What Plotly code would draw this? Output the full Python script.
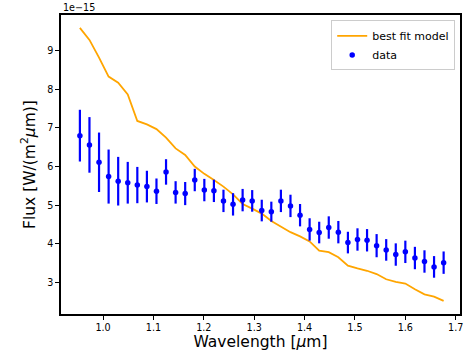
import plotly.graph_objects as go

# wavelength grid (micron)
wavelength = [0.954, 0.973, 0.992, 1.011, 1.030, 1.049, 1.068, 1.087, 1.106, 1.125,
              1.144, 1.163, 1.182, 1.201, 1.220, 1.239, 1.258, 1.277, 1.296, 1.315,
              1.334, 1.353, 1.372, 1.391, 1.410, 1.429, 1.448, 1.467, 1.486, 1.505,
              1.524, 1.543, 1.562, 1.581, 1.600, 1.619, 1.638, 1.657, 1.676]

# observed flux (units of 1e-15 W/(m^2 micron))
flux_data = [6.80, 6.56, 6.11, 5.74, 5.62, 5.58, 5.52, 5.48, 5.36, 5.86,
             5.33, 5.30, 5.65, 5.39, 5.37, 5.11, 5.02, 5.13, 5.11, 4.86,
             4.83, 5.11, 4.98, 4.74, 4.37, 4.29, 4.42, 4.30, 4.03, 4.11,
             4.09, 3.95, 3.84, 3.72, 3.79, 3.63, 3.54, 3.40, 3.51]

flux_err = [0.67, 0.72, 0.77, 0.70, 0.63, 0.54, 0.47, 0.41, 0.33, 0.33,
            0.29, 0.30, 0.29, 0.29, 0.29, 0.29, 0.29, 0.29, 0.28, 0.28,
            0.26, 0.29, 0.29, 0.29, 0.29, 0.28, 0.29, 0.29, 0.28, 0.29,
            0.29, 0.30, 0.28, 0.29, 0.29, 0.29, 0.29, 0.28, 0.29]

# best-fit model flux (units of 1e-15)
flux_model = [9.59, 9.28, 8.82, 8.33, 8.17, 7.87, 7.18, 7.09, 6.97, 6.75,
              6.47, 6.30, 6.00, 5.81, 5.65, 5.48, 5.28, 5.03, 4.91, 4.78,
              4.59, 4.44, 4.30, 4.19, 4.06, 3.82, 3.78, 3.65, 3.43, 3.36,
              3.30, 3.215, 3.08, 3.01, 2.97, 2.82, 2.69, 2.63, 2.52]

FONT = "DejaVu Sans"

fig = go.Figure()
fig.add_trace(go.Scatter(
    x=wavelength, y=flux_model, mode="lines", name="best fit model",
    line=dict(color="#ffa500", width=1.8),
))
fig.add_trace(go.Scatter(
    x=wavelength, y=flux_data, mode="markers", name="data",
    marker=dict(color="#0000ff", size=5.5),
    error_y=dict(type="data", array=flux_err, visible=True, color="#0000ff",
                 thickness=2.2, width=0),
))

fig.update_layout(
    width=465, height=361,
    margin=dict(l=61, r=3, t=15, b=47),
    paper_bgcolor="white", plot_bgcolor="white",
    font=dict(family=FONT, color="black", size=10),
    showlegend=True,
    legend=dict(x=0.988, y=0.982, xanchor="right", yanchor="top",
                bgcolor="rgba(255,255,255,0.9)", bordercolor="#cccccc", borderwidth=1,
                font=dict(family=FONT, size=11), tracegroupgap=0,
                itemwidth=30),
    xaxis=dict(
        range=[0.9165, 1.7085], tickmode="linear", tick0=1.0, dtick=0.1,
        tickformat=".1f", ticks="outside", ticklen=4, tickwidth=1, tickcolor="black",
        showline=True, linecolor="black", linewidth=1.6, mirror=True,
        showgrid=False, zeroline=False,
        tickfont=dict(family=FONT, size=9.6),
        title=dict(text="Wavelength [<i>μ</i>m]", font=dict(family=FONT, size=15.5), standoff=4),
    ),
    yaxis=dict(
        range=[2.18, 9.925], tickmode="linear", tick0=3, dtick=1,
        ticks="outside", ticklen=4, tickwidth=1, tickcolor="black",
        showline=True, linecolor="black", linewidth=1.6, mirror=True,
        showgrid=False, zeroline=False,
        tickfont=dict(family=FONT, size=9.6),
        title=dict(text="Flux [W/(m<sup>2</sup><i>μ</i>m)]", font=dict(family=FONT, size=15.5), standoff=8),
    ),
    annotations=[dict(
        text="1e−15", x=0, y=1, xref="paper", yref="paper",
        xanchor="left", yanchor="bottom", showarrow=False,
        font=dict(family=FONT, size=9.6), yshift=0,
    )],
)

fig.write_html("out.html")
